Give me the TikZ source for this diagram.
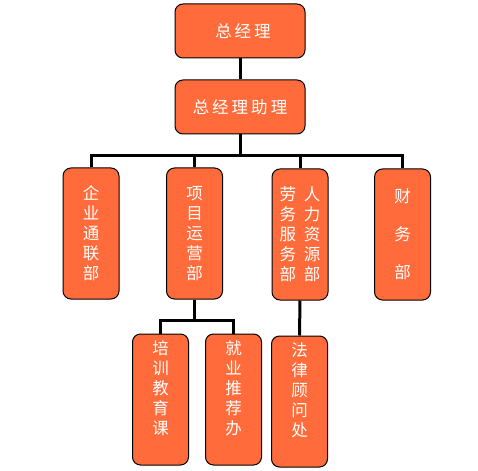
\documentclass[tikz,border=0pt]{standalone}
\usepackage{fontspec}
\newfontfamily\cjk{Noto Sans CJK SC}
\definecolor{boxorange}{HTML}{FF6B3B}
\newcommand{\gp}{\hspace{3pt}}
\begin{document}
\begin{tikzpicture}[x=1pt,y=-1pt,
  orgbox/.style={draw=black,line width=1pt,fill=boxorange,rounded corners=8pt,
    text=white,inner sep=0pt,align=center,font=\cjk\fontsize{16.5}{20}\selectfont},
  wide/.style={orgbox,minimum width=130pt,minimum height=54pt},
  tall/.style={orgbox,minimum width=56pt,minimum height=131pt},
  link/.style={line width=3pt,black}]
\useasboundingbox (0,0) rectangle (478,470);
\node[wide] (gm) at (240,31) {\hspace{6pt}总\gp 经\gp 理};
\node[wide] (asst) at (240,107) {总\gp 经\gp 理\gp 助\gp 理};
\node[tall] (r1) at (91,233.5) {企\\业\\通\\联\\部};
\node[tall] (r2) at (194.5,233.5) {项\\目\\运\\营\\部};
\node[tall] (r3) at (300,234.5) {劳\hspace{8pt}人\\务\hspace{8pt}力\\服\hspace{8pt}资\\务\hspace{8pt}源\\部\hspace{8pt}部};
\node[tall,font=\cjk\fontsize{16.5}{38}\selectfont] (r4) at (402.5,234.5) {财\\务\\部};
\node[tall] (c1) at (160.5,399.5) {培\\训\\教\\育\\课\\[3pt]};
\node[tall] (c2) at (233.5,399.5) {就\\业\\推\\荐\\办\\[3pt]};
\node[tall] (c3) at (299.5,401.5) {法\\律\\顾\\问\\处\\[3pt]};
\coordinate (bar) at (240,156);
\coordinate (sub) at (194.5,320);
\draw[link] (gm) -- (asst);
\draw[link] (asst) -- (bar);
\draw[link] (r1.north) |- (bar) -| (r4.north);
\draw[link] (r2.north) -- (r2.north |- bar);
\draw[link] (r3.north) -- (r3.north |- bar);
\draw[link] (r2.south) -- (sub);
\draw[link] (c1.north) |- (sub) -| (c2.north);
\draw[link] (r3.south) -- (c3.north);
\end{tikzpicture}
\end{document}
